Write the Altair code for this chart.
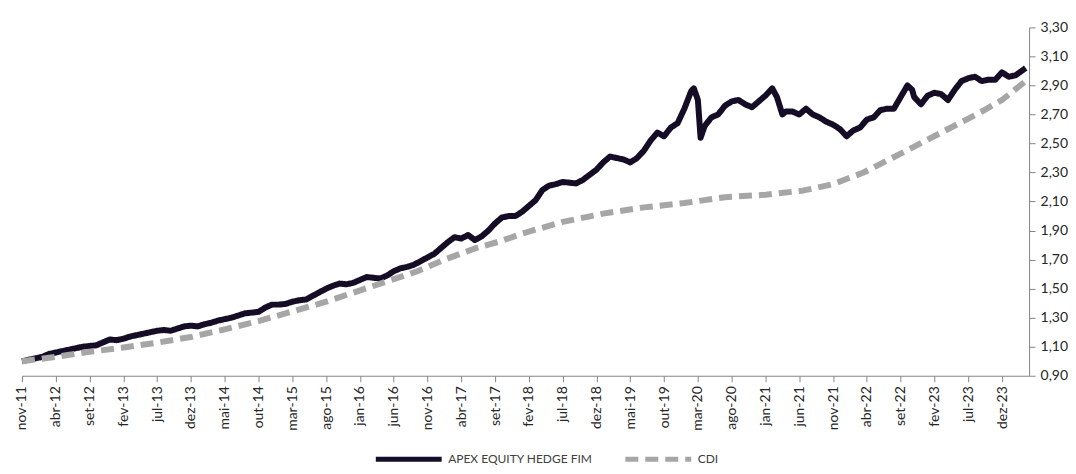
import altair as alt
import pandas as pd

# month index 0 = nov-11
fund_months = [0,1,2,3,4,5,6,7,8,9,10,11,12,13,14,15,16,17,18,19,20,21,22,23,24,25,26,27,28,29,
               30,31,32,33,34,35,36,37,38,39,40,41,42,43,44,45,46,47,48,49,50,51,52,53,54,55,56,57,58,59,
               60,61,62,63,64,65,66,67,68,69,70,71,72,73,74,75,76,77,78,79,80,81,82,83,84,85,86,87,88,89,
               90,91,92,93,94,95,96,97,98,99,99.4,100,100.4,101,102,103,104,105,106,107,108,109,110,111,111.7,112.5,113,114,115,116,117,118,119,
               120,121,122,123,124,125,126,127,128,129,130,131,131.7,132,133,134,135,136,137,138,139,140,141,142,143,144,145,146,147,148.5]
fund_values = [1.00,1.01,1.02,1.03,1.05,1.06,1.07,1.08,1.09,1.10,1.105,1.11,1.13,1.15,1.145,1.155,1.17,1.18,1.19,1.20,
               1.21,1.215,1.21,1.225,1.24,1.245,1.24,1.255,1.265,1.28,1.29,1.30,1.315,1.33,1.335,1.34,1.37,1.39,1.39,1.395,
               1.41,1.42,1.425,1.45,1.475,1.50,1.52,1.535,1.53,1.54,1.56,1.58,1.575,1.57,1.59,1.62,1.64,1.65,1.665,1.69,
               1.715,1.74,1.78,1.82,1.855,1.845,1.87,1.835,1.86,1.90,1.95,1.99,2.00,2.00,2.03,2.07,2.11,2.18,2.21,2.22,
               2.235,2.23,2.225,2.25,2.285,2.32,2.37,2.41,2.40,2.39,2.37,2.40,2.45,2.52,2.575,2.55,2.61,2.64,2.74,2.86,
               2.88,2.80,2.54,2.62,2.68,2.70,2.76,2.79,2.80,2.77,2.75,2.79,2.83,2.88,2.82,2.70,2.72,2.72,2.70,2.74,
               2.70,2.68,2.65,2.63,2.60,2.55,2.59,2.61,2.665,2.68,2.73,2.74,2.74,2.82,2.90,2.87,2.82,2.77,2.83,2.85,
               2.84,2.80,2.87,2.93,2.95,2.96,2.93,2.94,2.94,2.99,2.96,2.97,3.02]

cdi_months = [0,5,10,15,20,25,30,35,39,45,49.5,54,58.5,62.5,67,71,74,80,86,92,98,104,110,115.5,120,124.5,130,136,142,145,148.5]
cdi_values = [1.00,1.03,1.065,1.094,1.128,1.167,1.22,1.276,1.33,1.41,1.48,1.55,1.62,1.70,1.777,1.83,1.88,1.96,2.017,2.06,
              2.09,2.13,2.147,2.175,2.22,2.30,2.43,2.575,2.72,2.80,2.93]

tick_labels = ["nov-11","abr-12","set-12","fev-13","jul-13","dez-13","mai-14","out-14","mar-15","ago-15",
               "jan-16","jun-16","nov-16","abr-17","set-17","fev-18","jul-18","dez-18","mai-19","out-19",
               "mar-20","ago-20","jan-21","jun-21","nov-21","abr-22","set-22","fev-23","jul-23","dez-23"]

series_names = ["APEX EQUITY HEDGE FIM", "CDI"]

df = pd.concat([
    pd.DataFrame({"m": fund_months, "v": fund_values, "s": series_names[0]}),
    pd.DataFrame({"m": cdi_months, "v": cdi_values, "s": series_names[1]}),
])

label_expr = "[" + ",".join(f"'{l}'" for l in tick_labels) + "][round(datum.value/5)]"
font = "Lato"

chart = alt.Chart(df).mark_line(strokeWidth=6, strokeJoin="round").encode(
    x=alt.X("m:Q", scale=alt.Scale(domain=[0, 149], nice=False, zero=False),
            axis=alt.Axis(values=list(range(0, 146, 5)), labelExpr=label_expr, labelAngle=-90,
                          grid=False, title=None, domainColor="#868686", tickColor="#868686",
                          tickSize=6, labelFont=font, labelFontSize=14, labelColor="#262626",
                          labelPadding=4, labelOverlap=False)),
    y=alt.Y("v:Q", scale=alt.Scale(domain=[0.9, 3.3], nice=False, zero=False),
            axis=alt.Axis(orient="right", values=[round(0.9 + 0.2 * i, 2) for i in range(13)],
                          labelExpr="replace(format(datum.value, '.2f'), '.', ',')",
                          grid=False, title=None, domainColor="#868686", tickColor="#868686",
                          tickSize=6, labelFont=font, labelFontSize=14, labelColor="#262626",
                          labelPadding=5)),
    color=alt.Color("s:N", scale=alt.Scale(domain=series_names, range=["#150d26", "#a6a6a6"]),
                    legend=alt.Legend(title=None, orient="none", direction="horizontal",
                                      legendX=352, legendY=397, symbolType="stroke",
                                      symbolSize=4356, symbolStrokeWidth=5,
                                      labelFont=font, labelFontSize=12, labelColor="#404040",
                                      columnPadding=22, labelOffset=4)),
    strokeDash=alt.StrokeDash("s:N", scale=alt.Scale(domain=series_names, range=[[1, 0], [13, 7]]),
                              legend=None),
    order=alt.Order("m:Q"),
).properties(
    width=1009, height=349,
    padding={"left": 7, "top": 12, "right": 0, "bottom": 0},
).configure_view(stroke=None)

chart.save("out.html", embed_options={"renderer": "svg", "actions": False})
